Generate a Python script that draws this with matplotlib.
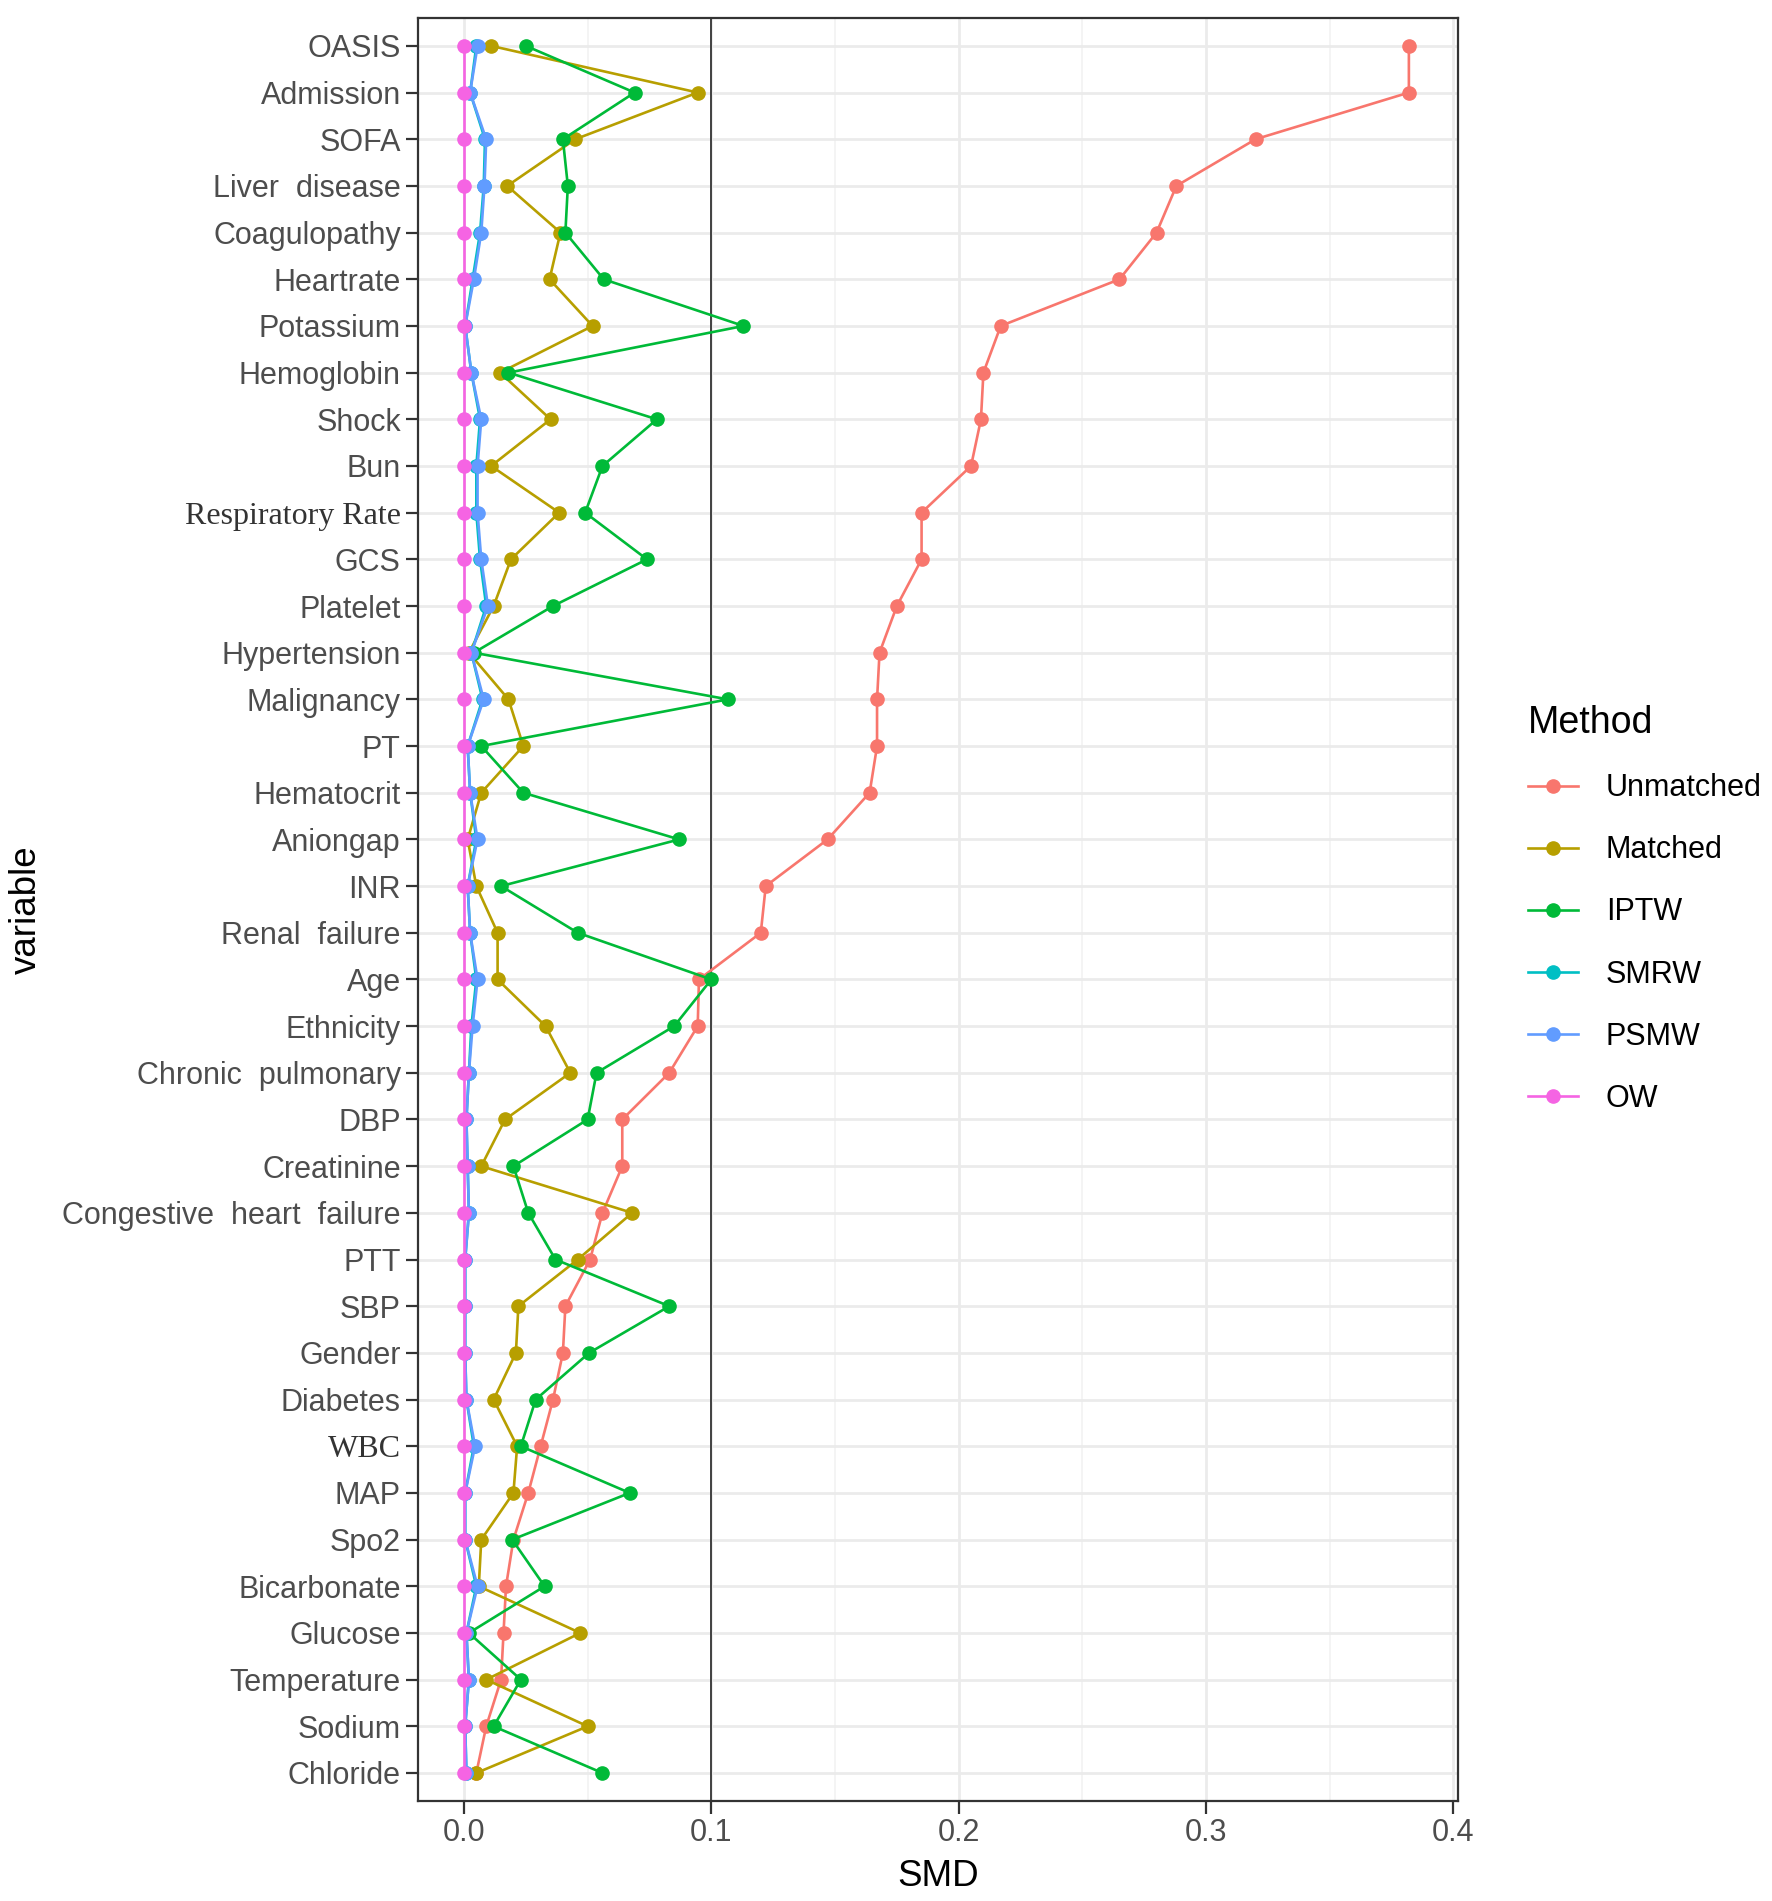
import numpy as np
import matplotlib
matplotlib.use("Agg")
import matplotlib.pyplot as plt

plt.rcParams["font.family"] = ["Liberation Sans", "DejaVu Sans"]

# variables, top to bottom as in the plot
variables = ["OASIS", "Admission", "SOFA", "Liver  disease", "Coagulopathy", "Heartrate",
             "Potassium", "Hemoglobin", "Shock", "Bun", "Respiratory Rate", "GCS", "Platelet",
             "Hypertension", "Malignancy", "PT", "Hematocrit", "Aniongap", "INR",
             "Renal  failure", "Age", "Ethnicity", "Chronic  pulmonary", "DBP", "Creatinine",
             "Congestive  heart  failure", "PTT", "SBP", "Gender", "Diabetes", "WBC", "MAP",
             "Spo2", "Bicarbonate", "Glucose", "Temperature", "Sodium", "Chloride"]

unmatched = [0.382, 0.382, 0.320, 0.288, 0.280, 0.265, 0.217, 0.210, 0.209, 0.205, 0.185,
             0.185, 0.175, 0.168, 0.167, 0.167, 0.164, 0.147, 0.122, 0.120, 0.095, 0.0945,
             0.083, 0.064, 0.064, 0.056, 0.051, 0.041, 0.040, 0.036, 0.031, 0.026, 0.020,
             0.017, 0.016, 0.015, 0.009, 0.005]
matched = [0.011, 0.0945, 0.045, 0.0175, 0.039, 0.0346, 0.052, 0.0146, 0.035, 0.011, 0.0385,
           0.019, 0.012, 0.002, 0.018, 0.024, 0.007, 0.0015, 0.005, 0.0136, 0.0136, 0.033,
           0.043, 0.0166, 0.007, 0.068, 0.046, 0.022, 0.021, 0.012, 0.0215, 0.020, 0.007,
           0.006, 0.047, 0.009, 0.050, 0.005]
iptw = [0.025, 0.069, 0.040, 0.042, 0.041, 0.0565, 0.113, 0.018, 0.078, 0.056, 0.049, 0.074,
        0.036, 0.004, 0.1067, 0.007, 0.024, 0.087, 0.015, 0.046, 0.100, 0.085, 0.0536, 0.050,
        0.020, 0.026, 0.037, 0.083, 0.0506, 0.029, 0.023, 0.067, 0.0195, 0.0326, 0.002,
        0.023, 0.012, 0.056]
smrw = [0.005, 0.0025, 0.0085, 0.008, 0.0065, 0.0035, 0.0005, 0.003, 0.0065, 0.005, 0.005,
        0.0065, 0.009, 0.003, 0.0075, 0.0015, 0.0025, 0.005, 0.0015, 0.0025, 0.005, 0.003,
        0.002, 0.001, 0.0015, 0.002, 0.0005, 0.0005, 0.0005, 0.001, 0.004, 0.0005, 0.0005,
        0.005, 0.001, 0.002, 0.0005, 0.001]
psmw = [0.0055, 0.0025, 0.009, 0.0083, 0.007, 0.004, 0.0005, 0.003, 0.007, 0.0055, 0.0055,
        0.007, 0.0097, 0.003, 0.008, 0.0015, 0.0025, 0.0055, 0.0015, 0.0025, 0.0055, 0.0035,
        0.002, 0.001, 0.0015, 0.002, 0.0005, 0.0005, 0.0005, 0.001, 0.0045, 0.0005, 0.0005,
        0.0055, 0.001, 0.002, 0.0005, 0.001]
ow = [0.0] * len(variables)

methods = ["Unmatched", "Matched", "IPTW", "SMRW", "PSMW", "OW"]
colors = ["#F8766D", "#B79F00", "#00BA38", "#00BFC4", "#619CFF", "#F564E3"]
series = [unmatched, matched, iptw, smrw, psmw, ow]

fig = plt.figure(figsize=(17.72, 19.01), dpi=100)
ax = fig.add_axes([0.236, 0.0526, 0.587, 0.938])

y = np.arange(len(variables))[::-1]

for vals, name, col in zip(series, methods, colors):
    ax.plot(vals, y, color=col, lw=1.9, marker="o", ms=9.5, label=name, zorder=3)

ax.axvline(0.1, color="#333333", lw=1.3, zorder=2)

ax.set_xlim(-0.0185, 0.402)
ax.set_ylim(-0.6, len(variables) - 0.4)
ax.set_xticks([0.0, 0.1, 0.2, 0.3, 0.4])
ax.set_xticklabels(["0.0", "0.1", "0.2", "0.3", "0.4"])
ax.set_xticks([0.05, 0.15, 0.25, 0.35], minor=True)
ax.set_yticks(y)
ax.set_yticklabels(variables)

# grid like theme_bw
ax.grid(which="major", color="#EBEBEB", lw=2.0, zorder=0)
ax.grid(which="minor", axis="x", color="#F2F2F2", lw=1.2, zorder=0)
ax.set_axisbelow(True)

ax.tick_params(axis="both", which="major", labelsize=22, labelcolor="#4D4D4D",
               color="#333333", length=9, width=1.6)
ax.tick_params(axis="x", which="minor", length=0)
for lab in ax.get_yticklabels():
    if lab.get_text() in ("Respiratory Rate", "WBC"):
        lab.set_family("Liberation Serif")
        lab.set_fontsize(23)
        lab.set_color("#333333")

for s in ax.spines.values():
    s.set_color("#333333")
    s.set_linewidth(1.6)

ax.set_xlabel("SMD", fontsize=26.5, labelpad=8)
fig.text(26 / 1772, 0.5216, "variable", fontsize=26.5, rotation=90,
         ha="center", va="center")

leg = ax.legend(loc="center left", bbox_to_anchor=(1.055, 0.5), frameon=False,
                fontsize=22, title="Method", title_fontsize=27, handlelength=1.65,
                labelspacing=1.05, borderaxespad=0, handletextpad=0.9)
leg._legend_box.align = "left"

fig.savefig("out.png", dpi=100)
